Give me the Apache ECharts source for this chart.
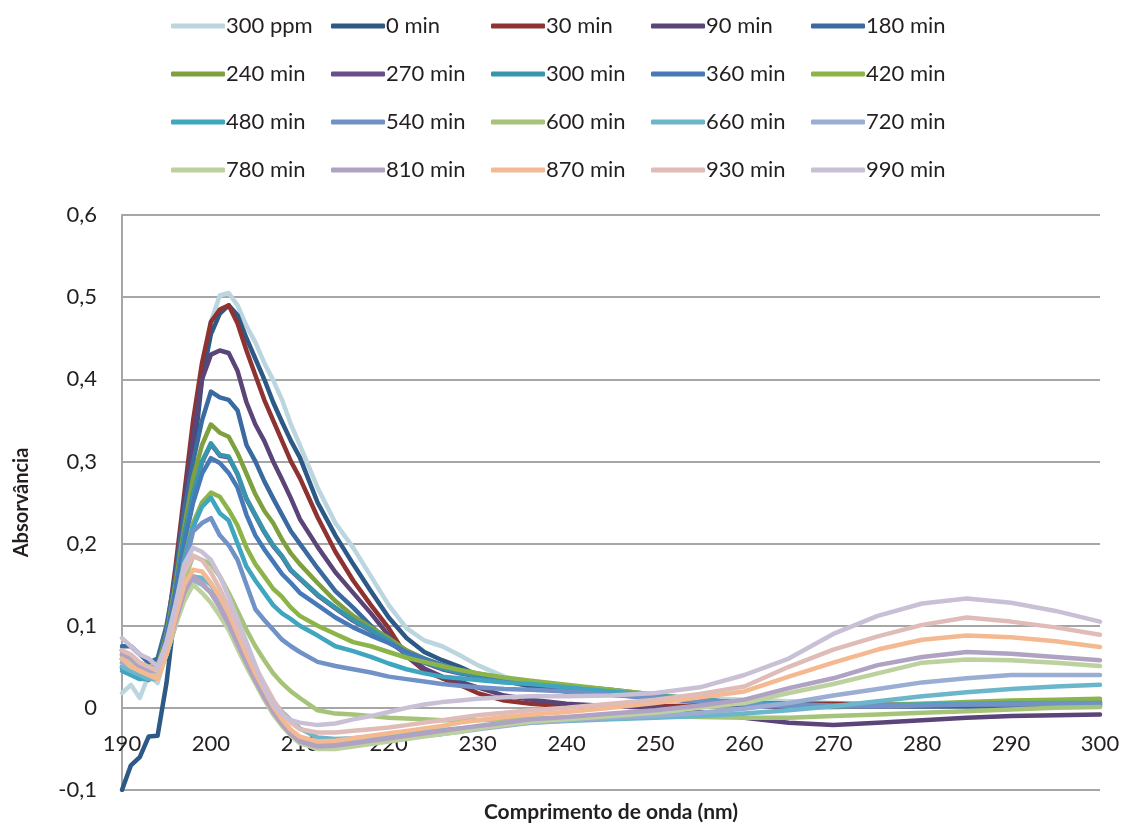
<!DOCTYPE html>
<html>
<head>
<meta charset="utf-8">
<script src="https://cdn.jsdelivr.net/npm/echarts@6/dist/echarts.min.js"></script>
<style>
html,body{margin:0;padding:0;background:#fff;}
#container1{width:1127px;height:827px;}
</style>
</head>
<body>
<div id="container1"></div>
<script>
// comprimento de onda (nm)
var wl = [190,191,192,193,194,195,196,197,198,199,200,201,202,203,204,205,206,207,208,209,210,212,214,216,218,220,222,224,226,228,230,233,236,240,245,250,255,260,265,270,275,280,285,290,295,300];

var names = ['300 ppm','0 min','30 min','90 min','180 min','240 min','270 min','300 min','360 min','420 min',
	'480 min','540 min','600 min','660 min','720 min','780 min','810 min','870 min','930 min','990 min'];

var colors = ['#BCD6E0','#2C5986','#8E3331','#5B4477','#3B6AA0','#7FA03E','#6A4D8C','#3796AE','#4579B8','#8DB448',
	'#40A6C0','#7092C6','#A5C479','#6CB6CC','#9AAED4','#BDD19E','#AFA2C3','#F5B991','#E0BCB8','#C9C0D6'];

var s300ppm = [0.018,0.028,0.012,0.040,0.030,0.070,0.130,0.230,0.320,0.410,0.470,0.502,0.505,0.490,0.465,0.445,0.420,0.399,0.375,0.345,0.320,0.268,0.225,0.195,0.160,0.125,0.097,0.082,0.075,0.064,0.052,0.038,0.030,0.025,0.020,0.015,0.012,0.010,0.008,0.006,0.005,0.005,0.006,0.006,0.007,0.007];
var s0 = [-0.100,-0.070,-0.060,-0.035,-0.034,0.030,0.120,0.200,0.300,0.400,0.455,0.480,0.490,0.478,0.450,0.425,0.400,0.372,0.348,0.325,0.305,0.250,0.210,0.175,0.142,0.110,0.085,0.068,0.058,0.050,0.040,0.033,0.026,0.020,0.016,0.012,0.008,0.005,0.005,0.004,0.003,0.002,0.002,0.002,0.002,0.002];
var s30 = [0.070,0.060,0.055,0.045,0.050,0.090,0.170,0.260,0.350,0.420,0.470,0.485,0.490,0.468,0.435,0.405,0.375,0.350,0.325,0.300,0.280,0.232,0.190,0.155,0.125,0.097,0.063,0.045,0.036,0.028,0.018,0.009,0.005,0.002,0.002,0.002,0.003,0.004,0.005,0.005,0.004,0.003,0.003,0.003,0.002,0.002];
var s90 = [0.060,0.055,0.050,0.040,0.045,0.085,0.160,0.250,0.330,0.400,0.430,0.435,0.432,0.410,0.372,0.345,0.325,0.300,0.278,0.255,0.230,0.196,0.165,0.140,0.115,0.088,0.063,0.048,0.038,0.032,0.025,0.015,0.010,0.005,0.002,0.000,-0.005,-0.012,-0.018,-0.021,-0.018,-0.015,-0.012,-0.010,-0.009,-0.008];
var s180 = [0.075,0.075,0.065,0.055,0.060,0.100,0.160,0.240,0.300,0.350,0.385,0.378,0.375,0.362,0.320,0.300,0.276,0.255,0.235,0.215,0.200,0.170,0.142,0.122,0.100,0.080,0.068,0.058,0.052,0.046,0.041,0.035,0.031,0.025,0.020,0.015,0.010,0.006,0.004,0.003,0.002,0.002,0.003,0.003,0.004,0.004];
var s240 = [0.065,0.060,0.055,0.050,0.050,0.090,0.150,0.220,0.280,0.320,0.345,0.335,0.330,0.310,0.285,0.260,0.240,0.225,0.205,0.188,0.175,0.152,0.130,0.112,0.098,0.085,0.070,0.060,0.052,0.046,0.042,0.036,0.032,0.026,0.020,0.014,0.008,0.004,0.002,0.002,0.003,0.004,0.005,0.006,0.006,0.007];
var s270 = [0.049,0.044,0.039,0.034,0.044,0.084,0.139,0.209,0.259,0.299,0.321,0.307,0.305,0.284,0.254,0.234,0.214,0.197,0.184,0.167,0.157,0.137,0.121,0.106,0.094,0.081,0.065,0.055,0.047,0.042,0.038,0.033,0.029,0.024,0.018,0.012,0.007,0.003,0.001,0.001,0.002,0.003,0.003,0.004,0.004,0.004];
var s300 = [0.050,0.045,0.040,0.035,0.045,0.085,0.140,0.210,0.260,0.300,0.322,0.308,0.306,0.285,0.255,0.235,0.215,0.198,0.185,0.168,0.158,0.138,0.122,0.107,0.095,0.082,0.066,0.056,0.048,0.043,0.039,0.034,0.030,0.025,0.019,0.013,0.008,0.004,0.002,0.002,0.003,0.004,0.004,0.005,0.005,0.005];
var s360 = [0.060,0.055,0.050,0.045,0.045,0.085,0.140,0.200,0.250,0.285,0.304,0.298,0.286,0.268,0.235,0.210,0.193,0.178,0.163,0.152,0.140,0.125,0.110,0.098,0.088,0.079,0.068,0.060,0.052,0.046,0.041,0.036,0.032,0.027,0.022,0.016,0.010,0.006,0.004,0.003,0.003,0.004,0.005,0.006,0.006,0.007];
var s420 = [0.055,0.050,0.045,0.040,0.040,0.075,0.120,0.180,0.225,0.250,0.262,0.257,0.241,0.222,0.195,0.175,0.160,0.145,0.135,0.122,0.112,0.100,0.090,0.080,0.075,0.068,0.061,0.056,0.051,0.046,0.042,0.037,0.033,0.028,0.022,0.016,0.010,0.005,0.003,0.002,0.003,0.005,0.007,0.009,0.010,0.011];
var s480 = [0.045,0.040,0.035,0.035,0.040,0.075,0.120,0.180,0.220,0.245,0.256,0.237,0.228,0.200,0.172,0.155,0.140,0.125,0.115,0.108,0.100,0.088,0.075,0.069,0.062,0.054,0.047,0.042,0.038,0.036,0.034,0.031,0.029,0.025,0.020,0.015,0.010,0.006,0.004,0.003,0.003,0.004,0.005,0.006,0.006,0.006];
var s540 = [0.060,0.055,0.050,0.045,0.045,0.075,0.120,0.170,0.215,0.225,0.231,0.210,0.198,0.180,0.150,0.120,0.107,0.095,0.083,0.075,0.068,0.056,0.051,0.047,0.043,0.038,0.035,0.032,0.029,0.027,0.025,0.023,0.022,0.020,0.016,0.012,0.008,0.004,0.003,0.002,0.002,0.003,0.004,0.004,0.005,0.005];
var s600 = [0.065,0.060,0.055,0.045,0.045,0.070,0.110,0.155,0.185,0.180,0.175,0.160,0.140,0.118,0.095,0.075,0.058,0.042,0.030,0.020,0.012,-0.003,-0.007,-0.008,-0.010,-0.012,-0.013,-0.014,-0.015,-0.015,-0.015,-0.014,-0.013,-0.012,-0.011,-0.010,-0.011,-0.012,-0.012,-0.010,-0.008,-0.006,-0.004,-0.002,0.000,0.001];
var s660 = [0.050,0.045,0.040,0.035,0.035,0.065,0.100,0.140,0.160,0.158,0.150,0.132,0.115,0.090,0.065,0.043,0.025,0.008,-0.005,-0.015,-0.025,-0.036,-0.038,-0.037,-0.035,-0.033,-0.031,-0.029,-0.027,-0.025,-0.023,-0.020,-0.018,-0.016,-0.014,-0.012,-0.010,-0.007,-0.003,0.002,0.008,0.014,0.019,0.023,0.026,0.028];
var s720 = [0.055,0.050,0.045,0.040,0.040,0.065,0.100,0.135,0.155,0.150,0.140,0.125,0.105,0.083,0.060,0.038,0.018,0.000,-0.015,-0.027,-0.036,-0.044,-0.044,-0.042,-0.040,-0.038,-0.036,-0.034,-0.032,-0.029,-0.026,-0.022,-0.018,-0.015,-0.012,-0.010,-0.006,-0.001,0.006,0.015,0.023,0.031,0.036,0.040,0.040,0.040];
var s780 = [0.060,0.055,0.045,0.040,0.040,0.065,0.100,0.130,0.150,0.140,0.128,0.112,0.095,0.072,0.050,0.030,0.010,-0.008,-0.022,-0.034,-0.043,-0.050,-0.050,-0.047,-0.044,-0.041,-0.038,-0.035,-0.032,-0.029,-0.025,-0.021,-0.017,-0.014,-0.010,-0.006,0.000,0.006,0.018,0.029,0.042,0.055,0.059,0.058,0.055,0.051];
var s810 = [0.065,0.060,0.050,0.045,0.045,0.070,0.105,0.140,0.160,0.152,0.140,0.122,0.102,0.078,0.055,0.033,0.013,-0.005,-0.020,-0.032,-0.041,-0.047,-0.046,-0.043,-0.040,-0.037,-0.034,-0.031,-0.028,-0.025,-0.022,-0.018,-0.014,-0.011,-0.007,-0.003,0.003,0.010,0.024,0.036,0.052,0.062,0.068,0.066,0.062,0.058];
var s870 = [0.060,0.050,0.045,0.040,0.035,0.065,0.110,0.150,0.168,0.166,0.152,0.135,0.115,0.090,0.065,0.042,0.022,0.002,-0.014,-0.027,-0.035,-0.041,-0.040,-0.037,-0.034,-0.031,-0.028,-0.025,-0.022,-0.018,-0.015,-0.011,-0.008,-0.005,0.000,0.006,0.013,0.020,0.038,0.055,0.071,0.083,0.088,0.086,0.081,0.074];
var s930 = [0.070,0.065,0.055,0.050,0.045,0.075,0.120,0.165,0.185,0.180,0.165,0.145,0.122,0.098,0.072,0.050,0.030,0.010,-0.006,-0.018,-0.026,-0.030,-0.030,-0.028,-0.026,-0.024,-0.021,-0.018,-0.015,-0.012,-0.009,-0.006,-0.003,0.000,0.005,0.010,0.017,0.026,0.050,0.071,0.087,0.101,0.110,0.105,0.098,0.089];
var s990 = [0.085,0.075,0.065,0.060,0.050,0.080,0.125,0.175,0.195,0.190,0.180,0.160,0.135,0.108,0.080,0.052,0.025,0.005,-0.008,-0.015,-0.018,-0.021,-0.019,-0.014,-0.010,-0.005,0.000,0.004,0.007,0.009,0.011,0.013,0.014,0.014,0.015,0.018,0.025,0.040,0.060,0.090,0.112,0.127,0.133,0.128,0.118,0.105];

var values = [s300ppm,s0,s30,s90,s180,s240,s270,s300,s360,s420,s480,s540,s600,s660,s720,s780,s810,s870,s930,s990];

var fonte = 'Lato, "Noto Sans", sans-serif';
var corTexto = '#231F20';
var corGrade = '#A6A6A6';

function pares(arr) {
	var r = [];
	for (var i = 0; i < wl.length; i++) {
		r.push([wl[i], arr[i]]);
	}
	return r;
}

var series = [];
for (var i = 0; i < names.length; i++) {
	series.push({
		name: names[i],
		type: 'line',
		data: pares(values[i]),
		showSymbol: false,
		symbol: 'none',
		smooth: false,
		animation: false,
		color: colors[i],
		lineStyle: { width: 4.5, color: colors[i], join: 'round', cap: 'round' }
	});
}

// legenda: 5 colunas, 4 linhas
var legends = [];
for (var c = 0; c < 5; c++) {
	var itens = [];
	for (var r = 0; r < 4; r++) {
		itens.push(names[r * 5 + c]);
	}
	legends.push({
		orient: 'vertical',
		left: 166 + c * 160,
		top: 8,
		data: itens,
		icon: 'roundRect',
		itemWidth: 54,
		itemHeight: 5,
		itemGap: 22,
		selectedMode: false,
		textStyle: { fontFamily: fonte, fontSize: 22, color: corTexto, lineHeight: 26, padding: [0, 0, 0, -4] }
	});
}

var myChart = echarts.init(document.getElementById('container1'));
myChart.setOption({
	backgroundColor: '#fff',
	animation: false,
	legend: legends,
	grid: { left: 122, right: 27, top: 215, bottom: 37, containLabel: false, outerBoundsMode: 'none' },
	xAxis: {
		type: 'value',
		min: 190,
		max: 300,
		interval: 10,
		name: 'Comprimento de onda (nm)',
		nameLocation: 'middle',
		nameGap: 12,
		nameTextStyle: { fontFamily: fonte, fontSize: 21, fontWeight: 'bold', color: corTexto, verticalAlign: 'top' },
		axisLine: { show: false, onZero: false },
		axisTick: { show: false },
		splitLine: { show: false },
		// rótulos ficam logo abaixo da linha do zero
		axisLabel: { fontFamily: fonte, fontSize: 22, color: corTexto, margin: -57 }
	},
	yAxis: {
		type: 'value',
		min: -0.1,
		max: 0.6,
		interval: 0.1,
		name: 'Absorvância',
		nameLocation: 'middle',
		nameRotate: 90,
		nameGap: 90,
		nameTextStyle: { fontFamily: fonte, fontSize: 20, fontWeight: 'bold', color: corTexto },
		axisLine: { show: true, lineStyle: { color: corGrade, width: 2 } },
		axisTick: { show: false },
		splitLine: { show: true, lineStyle: { color: corGrade, width: 2 } },
		axisLabel: {
			fontFamily: fonte, fontSize: 22, color: corTexto, margin: 25,
			formatter: function (v) {
				var n = Math.round(v * 10) / 10;
				if (n === 0) return '0';
				return n.toFixed(1).replace('.', ',');
			}
		}
	},
	series: series
});
</script>
</body>
</html>
